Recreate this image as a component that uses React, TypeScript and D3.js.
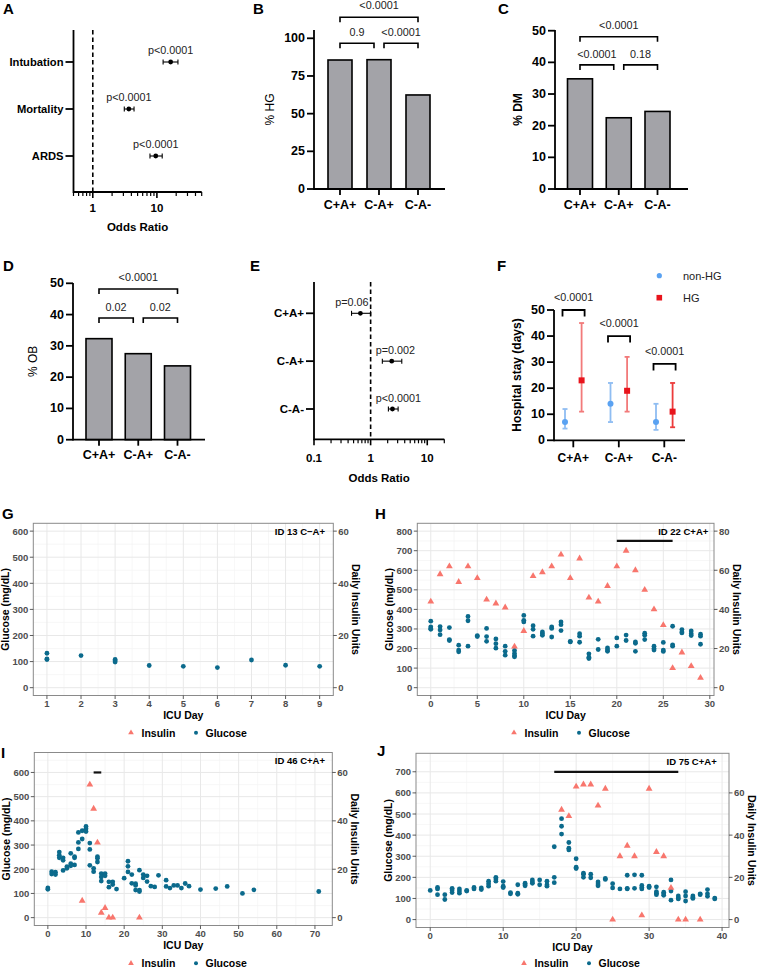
import React from "react";
import * as d3 from "d3";

const FONT = "'Liberation Sans', Arial, Helvetica, sans-serif";
const BAR_FILL = "#a3a3a8";
const GLUCOSE_COLOR = "#0b6a8c";
const INSULIN_COLOR = "#f8766d";
const AX = 1.8;

// ---- A: odds ratios by outcome
const outcomes = ["Intubation", "Mortality", "ARDS"];
const outcomeOR = [16.4, 3.65, 9.6];
const outcomeLo = [12.5, 3.1, 7.8];
const outcomeHi = [21.3, 4.4, 12.1];
const outcomeP = ["p<0.0001", "p<0.0001", "p<0.0001"];

// ---- B, C, D: percentages by group
const groups = ["C+A+", "C-A+", "C-A-"];
const hgPct = [85.6, 85.8, 62.4];
const dmPct = [34.8, 22.5, 24.5];
const obPct = [32.3, 27.5, 23.6];
// p labels: [left pair, right pair, outer]
const hgP = ["0.9", "<0.0001", "<0.0001"];
const dmP = ["<0.0001", "0.18", "<0.0001"];
const obP = ["0.02", "0.02", "<0.0001"];

// ---- E: odds ratios by group
const groupOR = [0.66, 2.36, 2.43];
const groupLo = [0.46, 1.61, 2.06];
const groupHi = [1.0, 3.55, 3.06];
const groupP = ["p=0.06", "p=0.002", "p<0.0001"];

// ---- F: hospital stay (median, range)
const stayNonHG = [7, 14, 7];
const stayNonHGLo = [4.5, 7, 4];
const stayNonHGHi = [12, 22, 14];
const stayHG = [23, 19, 11];
const stayHGLo = [11, 11, 5];
const stayHGHi = [45, 32, 22];
const stayP = ["<0.0001", "<0.0001", "<0.0001"];
const stayBracket = [50, 40, 29.3];
const stayHGBarColors = ["#f27a7a", "#f27a7a", "#ec3b3b"];

// ---- G: ID 13
const gGlucoseDays = [1, 2, 3, 4, 5, 6, 7, 8, 9];
const gGlucose = [[132, 110, 108], [123], [108, 103, 98], [85], [82], [77], [106], [86], [82]];
const gInsulinDays: number[] = [];
const gInsulin: number[] = [];

// ---- H: ID 22
const hGlucoseDays = [0, 1, 2, 3, 4, 5, 6, 7, 8, 9, 10, 11, 12, 13, 14, 15, 16, 17, 18, 19, 20, 21, 22, 23, 24, 25, 26, 27, 28, 29];
const hGlucose = [
  [340, 311, 303, 298], [312, 295, 271], [307, 246, 241], [217, 192, 183], [364, 342, 212],
  [266, 261], [303, 261, 237], [249, 225, 202], [212, 186, 166], [190, 175, 163, 158],
  [369, 344, 336], [317, 298, 263], [285, 276, 268], [310, 303, 259], [336, 322, 292],
  [237, 234], [276, 263, 232], [173, 156, 149], [247, 195], [203, 193, 186],
  [254, 212], [269, 241], [234, 227, 186], [278, 268, 246], [212, 200, 192],
  [231, 192, 185], [314, 219, 212], [297, 285, 280], [290, 276, 266], [273, 263, 222],
];
const hInsulinDays = [0, 1, 2, 3, 4, 5, 6, 7, 8, 9, 10, 11, 12, 13, 14, 15, 16, 17, 18, 19, 20, 21, 22, 23, 24, 25, 26, 27, 28, 29];
const hInsulin = [44, 58, 62, 54, 62, 56, 45, 43, 41, 21, 29, 57, 59, 62, 68, 56, 66, 46, 44, 52, 62, 70, 60, 50, 40, 32, 10, 18, 11, 5];

// ---- I: ID 46
const iGlucoseDays = [0, 1, 2, 3, 4, 5, 6, 7, 8, 9, 10, 11, 12, 13, 14, 15, 16, 17, 18, 20, 21, 22, 23, 24, 25, 26, 27, 28, 29, 31, 32, 33, 34, 35, 36, 37, 40, 44, 47, 51, 54, 71];
const iGlucose = [
  [123, 117], [190, 180], [188, 178], [271, 258, 247], [247, 237, 195], [211, 204],
  [266, 223, 214], [252, 247, 218], [352, 311, 284], [359, 325], [377, 367, 356],
  [308, 282, 216], [204, 190], [252, 245, 230], [182, 168, 151], [182, 173], [148, 126],
  [148, 137], [118], [163], [233, 212, 189], [178, 142], [140, 133, 114], [196, 114, 108],
  [178, 164], [173, 149], [130], [127], [175], [155, 129], [122], [133], [133], [122],
  [141], [130], [116], [120], [129], [100], [115], [108],
];
const iInsulinDays = [9, 11, 12, 13, 14, 15, 16, 17, 24];
const iInsulin = [7, 55, 45, 31, 2, 4, 0, 0, 0];

// ---- J: ID 75
const jGlucoseDays = [0, 1, 2, 3, 4, 5, 6, 7, 8, 9, 10, 11, 12, 13, 14, 15, 16, 17, 18, 19, 20, 21, 22, 23, 24, 25, 26, 27, 28, 29, 30, 31, 32, 33, 34, 35, 36, 37, 38, 39];
const jGlucose = [
  [138], [152, 145, 118], [118, 95], [148, 140, 128], [145, 135, 125], [138, 135],
  [152, 145], [150, 142], [182, 170, 158], [200, 192, 182], [180, 158, 152], [128, 122],
  [165, 125, 120], [172, 165, 160], [188, 178, 172], [188, 165], [182, 165, 158],
  [345, 200, 175], [478, 442, 405], [365, 338, 330], [288, 248, 242], [220, 215, 200],
  [215, 198], [178, 168, 160], [195, 190], [170, 150], [145], [210, 148, 145], [212, 148],
  [210, 162, 152, 145], [158, 152], [155, 132, 125, 118], [130, 122, 115], [188, 135, 92],
  [112, 102, 98], [132, 112, 88], [112, 105, 100], [122, 118], [142, 122, 110], [102, 98],
];
const jInsulinDays = [18, 19, 20, 21, 22, 23, 24, 25, 26, 27, 28, 29, 30, 31, 32, 33, 34, 35, 37];
const jInsulin = [52, 49, 63, 64, 64, 54, 62, 0, 30, 35, 30, 2, 62, 32, 30, 15, 0, 0, 0];

function Letter({ x, y, t }: { x: number; y: number; t: string }) {
  return (
    <text x={x} y={y} fontSize={15} fontWeight={700} fill="#000">
      {t}
    </text>
  );
}

function ForestPanel(props: any) {
  const { cats, or, lo, hi, pLabels, domain, left, right, top, bottom, catRange, centered, catFont, tickY, titleY } = props;
  const xs = d3.scaleLog().domain(domain).range([left, right]);
  const ys = d3.scalePoint<string>().domain(cats).range(catRange);
  const ticks = xs.ticks();
  const isMajor = (t: number) => Math.abs(Math.log10(t) - Math.round(Math.log10(t))) < 1e-6;
  const fmt = d3.format("~g");
  const x1 = xs(1);
  return (
    <g>
      <line x1={x1} x2={x1} y1={top} y2={bottom} stroke="#000" strokeWidth={1.6} strokeDasharray="4.5,3" />
      {cats.map((c: string, i: number) => {
        const y = ys(c)!;
        const tx = centered ? xs(or[i]) : or[i] < 1 ? x1 - 2 : x1 + 5;
        const anchor = centered ? "middle" : or[i] < 1 ? "end" : "start";
        return (
          <g key={c}>
            <line x1={left - 8} x2={left} y1={y} y2={y} stroke="#000" strokeWidth={AX} />
            <text x={left - 10} y={y} textAnchor="end" dominantBaseline="central" fontSize={catFont} fontWeight={700}>
              {c}
            </text>
            <line x1={xs(lo[i])} x2={xs(hi[i])} y1={y} y2={y} stroke="#000" strokeWidth={1.1} />
            <line x1={xs(lo[i])} x2={xs(lo[i])} y1={y - 2.5} y2={y + 2.5} stroke="#000" strokeWidth={1.1} />
            <line x1={xs(hi[i])} x2={xs(hi[i])} y1={y - 2.5} y2={y + 2.5} stroke="#000" strokeWidth={1.1} />
            <circle cx={xs(or[i])} cy={y} r={2.4} fill="#000" />
            <text x={tx} y={y - (centered ? 12 : 11)} textAnchor={anchor} dominantBaseline="central" fontSize={10.8} fill="#222">
              {pLabels[i]}
            </text>
          </g>
        );
      })}
      <line x1={left} x2={left} y1={top} y2={bottom + AX / 2} stroke="#000" strokeWidth={AX} />
      <line x1={left} x2={right} y1={bottom} y2={bottom} stroke="#000" strokeWidth={AX} />
      {ticks.map((t) => (
        <line key={t} x1={xs(t)} x2={xs(t)} y1={bottom} y2={bottom + (isMajor(t) ? 6 : 4)} stroke="#000" strokeWidth={isMajor(t) ? 1.6 : 1.2} />
      ))}
      {ticks.filter(isMajor).map((t) => (
        <text key={"l" + t} x={xs(t)} y={tickY} textAnchor="middle" dominantBaseline="central" fontSize={11.5} fontWeight={700}>
          {fmt(t)}
        </text>
      ))}
      <text x={(left + right) / 2} y={titleY} textAnchor="middle" dominantBaseline="central" fontSize={11.5} fontWeight={700}>
        Odds Ratio
      </text>
    </g>
  );
}

function BarPanel(props: any) {
  const { values, pLabels, tickMax, tickStep, left, axisEnd, axisTop, bottom, tickTopPx, centers, barWidth, bracketVals, yLabel, yLabelX, yLabelBold, catY } = props;
  const ys = d3.scaleLinear().domain([0, tickMax]).range([bottom, tickTopPx]);
  const xs = d3.scalePoint<string>().domain(groups).range(centers);
  const ticks = d3.range(0, tickMax + 1e-9, tickStep);
  const c = groups.map((g) => xs(g)!);
  const lowY = ys(bracketVals[0]);
  const outY = ys(bracketVals[1]);
  const gap = 5;
  const bracket = (xa: number, xb: number, y: number, key: string) => (
    <path key={key} d={`M${xa},${y + 5}V${y}H${xb}V${y + 5}`} fill="none" stroke="#000" strokeWidth={1.6} />
  );
  return (
    <g>
      {values.map((v: number, i: number) => (
        <rect key={i} x={c[i] - barWidth / 2} y={ys(v)} width={barWidth} height={bottom - ys(v)} fill={BAR_FILL} stroke="#000" strokeWidth={1.6} />
      ))}
      <line x1={left} x2={left} y1={axisTop} y2={bottom + AX / 2} stroke="#000" strokeWidth={AX} />
      <line x1={left} x2={axisEnd} y1={bottom} y2={bottom} stroke="#000" strokeWidth={AX} />
      {ticks.map((t) => (
        <g key={t}>
          <line x1={left - 7} x2={left} y1={ys(t)} y2={ys(t)} stroke="#000" strokeWidth={AX} />
          <text x={left - 9} y={ys(t)} textAnchor="end" dominantBaseline="central" fontSize={12.5} fontWeight={700}>
            {t}
          </text>
        </g>
      ))}
      {groups.map((g, i) => (
        <g key={g}>
          <line x1={c[i]} x2={c[i]} y1={bottom} y2={bottom + 6} stroke="#000" strokeWidth={AX} />
          <text x={c[i]} y={catY} textAnchor="middle" dominantBaseline="central" fontSize={12.5} fontWeight={700}>
            {g}
          </text>
        </g>
      ))}
      {bracket(c[0], c[1] - gap, lowY, "b1")}
      {bracket(c[1] + gap, c[2], lowY, "b2")}
      {bracket(c[0], c[2], outY, "b3")}
      <text x={(c[0] + c[1] - gap) / 2} y={lowY - 11} textAnchor="middle" dominantBaseline="central" fontSize={10.8} fill="#222">
        {pLabels[0]}
      </text>
      <text x={(c[1] + gap + c[2]) / 2} y={lowY - 11} textAnchor="middle" dominantBaseline="central" fontSize={10.8} fill="#222">
        {pLabels[1]}
      </text>
      <text x={(c[0] + c[2]) / 2} y={outY - 12} textAnchor="middle" dominantBaseline="central" fontSize={10.8} fill="#222">
        {pLabels[2]}
      </text>
      <text
        transform={`translate(${yLabelX},${(axisTop + bottom) / 2}) rotate(-90)`}
        textAnchor="middle"
        dominantBaseline="central"
        fontSize={12}
        fontWeight={yLabelBold ? 700 : 400}
      >
        {yLabel}
      </text>
    </g>
  );
}

function StayPanel() {
  const left = 554;
  const bottom = 440.3;
  const axisEnd = 685;
  const ys = d3.scaleLinear().domain([0, 50]).range([bottom, 310]);
  const xs = d3.scalePoint<string>().domain(groups).range([573.3, 664.3]);
  const ticks = d3.range(0, 51, 10);
  const off = 8.3;
  const series = [
    { mid: stayNonHG, lo: stayNonHGLo, hi: stayNonHGHi, dx: -off, bars: ["#8fbdf2", "#8fbdf2", "#8fbdf2"], mark: "#5aa2f2", square: false },
    { mid: stayHG, lo: stayHGLo, hi: stayHGHi, dx: off, bars: stayHGBarColors, mark: "#e8141c", square: true },
  ];
  return (
    <g>
      {series.map((s, si) =>
        groups.map((g, i) => {
          const x = xs(g)! + s.dx;
          return (
            <g key={si + g}>
              <line x1={x} x2={x} y1={ys(s.lo[i])} y2={ys(s.hi[i])} stroke={s.bars[i]} strokeWidth={1.8} />
              <line x1={x - 2.5} x2={x + 2.5} y1={ys(s.lo[i])} y2={ys(s.lo[i])} stroke={s.bars[i]} strokeWidth={1.8} />
              <line x1={x - 2.5} x2={x + 2.5} y1={ys(s.hi[i])} y2={ys(s.hi[i])} stroke={s.bars[i]} strokeWidth={1.8} />
              {s.square ? (
                <rect x={x - 3} y={ys(s.mid[i]) - 3} width={6} height={6} fill={s.mark} />
              ) : (
                <circle cx={x} cy={ys(s.mid[i])} r={3} fill={s.mark} />
              )}
            </g>
          );
        })
      )}
      {groups.map((g, i) => {
        const x0 = xs(g)! - off - 2.5;
        const x1 = xs(g)! + off + 3;
        const y = ys(stayBracket[i]);
        return (
          <g key={"br" + g}>
            <path d={`M${x0},${y + 6.5}V${y}H${x1}V${y + 6.5}`} fill="none" stroke="#000" strokeWidth={1.8} />
            <text x={(x0 + x1) / 2} y={y - 12.7} textAnchor="middle" dominantBaseline="central" fontSize={10.8} fill="#222">
              {stayP[i]}
            </text>
          </g>
        );
      })}
      <line x1={left} x2={left} y1={ys(50)} y2={bottom + AX / 2} stroke="#000" strokeWidth={AX} />
      <line x1={left} x2={axisEnd} y1={bottom} y2={bottom} stroke="#000" strokeWidth={AX} />
      {ticks.map((t) => (
        <g key={t}>
          <line x1={left - 7} x2={left} y1={ys(t)} y2={ys(t)} stroke="#000" strokeWidth={AX} />
          <text x={left - 9} y={ys(t)} textAnchor="end" dominantBaseline="central" fontSize={12.5} fontWeight={700}>
            {t}
          </text>
        </g>
      ))}
      {groups.map((g) => (
        <g key={"x" + g}>
          <line x1={xs(g)} x2={xs(g)} y1={bottom} y2={bottom + 7} stroke="#000" strokeWidth={AX} />
          <text x={xs(g)} y={457.7} textAnchor="middle" dominantBaseline="central" fontSize={12} fontWeight={700}>
            {g}
          </text>
        </g>
      ))}
      <text transform={`translate(516.7,375) rotate(-90)`} textAnchor="middle" dominantBaseline="central" fontSize={12} fontWeight={700}>
        Hospital stay (days)
      </text>
      <circle cx={659.3} cy={275.7} r={2.6} fill="#5aa2f2" />
      <text x={683} y={275.7} dominantBaseline="central" fontSize={11} fill="#222">
        non-HG
      </text>
      <rect x={656.5} y={294.9} width={5.6} height={5.6} fill="#e8141c" />
      <text x={683} y={297.7} dominantBaseline="central" fontSize={11} fill="#222">
        HG
      </text>
    </g>
  );
}

function TimePanel(p: any) {
  const xPad = 0.05 * (p.dayMax - p.dayMin);
  const xs = d3.scaleLinear().domain([p.dayMin - xPad, p.dayMax + xPad]).range([p.left, p.right]);
  const ys = d3.scaleLinear().domain([-0.05 * p.yMax, 1.05 * p.yMax]).range([p.bottom, p.top]);
  const [xd0, xd1] = xs.domain();
  const [yd0, yd1] = ys.domain();
  const xMajor = d3.range(Math.ceil(xd0 / p.xStep) * p.xStep, xd1 + 1e-9, p.xStep);
  const xMinor = [xMajor[0] - p.xStep / 2, ...xMajor.map((v) => v + p.xStep / 2)].filter((v) => v > xd0 && v < xd1);
  const yMajor = d3.range(0, yd1 + 1e-9, 100);
  const yMinor = [...yMajor.map((v) => v + 50)].filter((v) => v > yd0 && v < yd1);
  const insulinTicks = d3.range(0, yd1 / 10 + 1e-9, 20);
  const tri = d3.symbol(d3.symbolTriangle, 20)()!;
  const legTri = d3.symbol(d3.symbolTriangle, 14)()!;
  const tickCol = "#333";
  const labCol = "#4d4d4d";
  const midY = (p.top + p.bottom) / 2;
  return (
    <g>
      <rect x={p.left} y={p.top} width={p.right - p.left} height={p.bottom - p.top} fill="#fff" />
      {xMinor.map((v) => (
        <line key={"xm" + v} x1={xs(v)} x2={xs(v)} y1={p.top} y2={p.bottom} stroke="#f3f3f3" strokeWidth={0.7} />
      ))}
      {yMinor.map((v) => (
        <line key={"ym" + v} x1={p.left} x2={p.right} y1={ys(v)} y2={ys(v)} stroke="#f3f3f3" strokeWidth={0.7} />
      ))}
      {xMajor.map((v) => (
        <line key={"xM" + v} x1={xs(v)} x2={xs(v)} y1={p.top} y2={p.bottom} stroke="#e8e8e8" strokeWidth={1} />
      ))}
      {yMajor.map((v) => (
        <line key={"yM" + v} x1={p.left} x2={p.right} y1={ys(v)} y2={ys(v)} stroke="#e8e8e8" strokeWidth={1} />
      ))}
      {p.glucoseDays.map((d: number, i: number) =>
        p.glucose[i].map((v: number, k: number) => <circle key={"g" + d + "_" + k} cx={xs(d)} cy={ys(v)} r={2.4} fill={GLUCOSE_COLOR} />)
      )}
      {p.insulinDays.map((d: number, i: number) => (
        <path key={"ins" + d} d={tri} transform={`translate(${xs(d)},${ys(p.insulin[i] * 10)})`} fill={INSULIN_COLOR} />
      ))}
      {p.bar && (
        <line x1={xs(p.bar[0])} x2={xs(p.bar[1])} y1={ys(p.barY)} y2={ys(p.barY)} stroke="#111" strokeWidth={2.2} />
      )}
      <text x={p.titleRight} y={ys(p.yMax)} textAnchor="end" dominantBaseline="central" fontSize={9.5} fontWeight={700}>
        {p.title}
      </text>
      <rect x={p.left} y={p.top} width={p.right - p.left} height={p.bottom - p.top} fill="none" stroke="#8a8a8a" strokeWidth={1} />
      {yMajor.map((v) => (
        <g key={"yl" + v}>
          <line x1={p.left - 3.5} x2={p.left} y1={ys(v)} y2={ys(v)} stroke={tickCol} strokeWidth={0.8} />
          <text x={p.left - 5} y={ys(v)} textAnchor="end" dominantBaseline="central" fontSize={9.5} fontWeight={700} fill={labCol}>
            {v}
          </text>
        </g>
      ))}
      {insulinTicks.map((v) => (
        <g key={"yr" + v}>
          <line x1={p.right} x2={p.right + 3.5} y1={ys(v * 10)} y2={ys(v * 10)} stroke={tickCol} strokeWidth={0.8} />
          <text x={p.right + 5} y={ys(v * 10)} dominantBaseline="central" fontSize={9.5} fontWeight={700} fill={labCol}>
            {v}
          </text>
        </g>
      ))}
      {xMajor.map((v) => (
        <g key={"xl" + v}>
          <line x1={xs(v)} x2={xs(v)} y1={p.bottom} y2={p.bottom + 3.5} stroke={tickCol} strokeWidth={0.8} />
          <text x={xs(v)} y={p.bottom + 8} textAnchor="middle" dominantBaseline="central" fontSize={9.5} fontWeight={700} fill={labCol}>
            {v}
          </text>
        </g>
      ))}
      <text x={(p.left + p.right) / 2} y={p.bottom + 19} textAnchor="middle" dominantBaseline="central" fontSize={10.5} fontWeight={700}>
        ICU Day
      </text>
      <text transform={`translate(${p.left - 28},${midY}) rotate(-90)`} textAnchor="middle" dominantBaseline="central" fontSize={10.5} fontWeight={700}>
        Glucose (mg/dL)
      </text>
      <text transform={`translate(${p.right + 23},${midY}) rotate(90)`} textAnchor="middle" dominantBaseline="central" fontSize={10.5} fontWeight={700}>
        Daily Insulin Units
      </text>
      <path d={legTri} transform={`translate(${p.legendX - 56},${p.legendY})`} fill={INSULIN_COLOR} />
      <text x={p.legendX - 45.5} y={p.legendY} dominantBaseline="central" fontSize={10.5} fontWeight={700}>
        Insulin
      </text>
      <circle cx={p.legendX + 9} cy={p.legendY} r={2} fill={GLUCOSE_COLOR} />
      <text x={p.legendX + 18.5} y={p.legendY} dominantBaseline="central" fontSize={10.5} fontWeight={700}>
        Glucose
      </text>
    </g>
  );
}

export default function App() {
  return (
    <div style={{ position: "absolute", left: 0, top: 0 }}>
      <svg width={757} height={969} style={{ display: "block", background: "#fff", fontFamily: FONT }}>
        <rect width={757} height={969} fill="#fff" />
        <Letter x={3} y={14} t="A" />
        <Letter x={253} y={14} t="B" />
        <Letter x={498} y={14} t="C" />
        <Letter x={3} y={271} t="D" />
        <Letter x={250} y={271} t="E" />
        <Letter x={497} y={271} t="F" />
        <Letter x={2} y={519} t="G" />
        <Letter x={375} y={519} t="H" />
        <Letter x={1} y={758} t="I" />
        <Letter x={377} y={756} t="J" />

        <ForestPanel
          cats={outcomes}
          or={outcomeOR}
          lo={outcomeLo}
          hi={outcomeHi}
          pLabels={outcomeP}
          domain={[0.5, 50]}
          left={73.5}
          right={201.7}
          top={30}
          bottom={192}
          catRange={[62, 156]}
          centered={true}
          catFont={11.2}
          tickY={208}
          titleY={227}
        />
        <BarPanel
          values={hgPct}
          pLabels={hgP}
          tickMax={100}
          tickStep={25}
          left={314}
          axisEnd={445}
          axisTop={30}
          bottom={189}
          tickTopPx={38.3}
          centers={[340, 418]}
          barWidth={24}
          bracketVals={[96.7, 114]}
          yLabel="% HG"
          yLabelX={270}
          yLabelBold={false}
          catY={205}
        />
        <BarPanel
          values={dmPct}
          pLabels={dmP}
          tickMax={50}
          tickStep={10}
          left={555}
          axisEnd={688}
          axisTop={30}
          bottom={189}
          tickTopPx={30.7}
          centers={[580, 657.5]}
          barWidth={25}
          bracketVals={[39.2, 48.1]}
          yLabel="% DM"
          yLabelX={518}
          yLabelBold={true}
          catY={205}
        />
        <BarPanel
          values={obPct}
          pLabels={obP}
          tickMax={50}
          tickStep={10}
          left={73}
          axisEnd={205}
          axisTop={283}
          bottom={439.7}
          tickTopPx={283.3}
          centers={[99, 177.5]}
          barWidth={26}
          bracketVals={[38.9, 48.2]}
          yLabel="% OB"
          yLabelX={33}
          yLabelBold={false}
          catY={455}
        />
        <ForestPanel
          cats={groups}
          or={groupOR}
          lo={groupLo}
          hi={groupHi}
          pLabels={groupP}
          domain={[0.1, 20]}
          left={314}
          right={444.3}
          top={282}
          bottom={439.3}
          catRange={[313.3, 409]}
          centered={false}
          catFont={11.5}
          tickY={458.3}
          titleY={478.3}
        />
        <StayPanel />

        <TimePanel
          left={33.3}
          right={333.3}
          top={523.3}
          bottom={695.5}
          dayMin={1}
          dayMax={9}
          yMax={600}
          xStep={1}
          glucoseDays={gGlucoseDays}
          glucose={gGlucose}
          insulinDays={gInsulinDays}
          insulin={gInsulin}
          title="ID 13 C−A+"
          titleRight={325}
          legendX={187}
          legendY={732.7}
        />
        <TimePanel
          left={417.3}
          right={714}
          top={523.3}
          bottom={695.5}
          dayMin={0}
          dayMax={29}
          yMax={800}
          xStep={5}
          glucoseDays={hGlucoseDays}
          glucose={hGlucose}
          insulinDays={hInsulinDays}
          insulin={hInsulin}
          bar={[20, 26]}
          barY={750}
          title="ID 22 C+A+"
          titleRight={708.3}
          legendX={570}
          legendY={732.7}
        />
        <TimePanel
          left={34.3}
          right={332.3}
          top={752.5}
          bottom={925.5}
          dayMin={0}
          dayMax={71}
          yMax={650}
          xStep={10}
          glucoseDays={iGlucoseDays}
          glucose={iGlucose}
          insulinDays={iInsulinDays}
          insulin={iInsulin}
          bar={[12, 14]}
          barY={600}
          title="ID 46 C+A+"
          titleRight={325}
          legendX={187}
          legendY={963.3}
        />
        <TimePanel
          left={416}
          right={729}
          top={753.3}
          bottom={927.5}
          dayMin={0}
          dayMax={39}
          yMax={750}
          xStep={10}
          glucoseDays={jGlucoseDays}
          glucose={jGlucose}
          insulinDays={jInsulinDays}
          insulin={jInsulin}
          bar={[17, 34]}
          barY={700}
          title="ID 75 C+A+"
          titleRight={716.7}
          legendX={580}
          legendY={963.3}
        />
      </svg>
    </div>
  );
}
